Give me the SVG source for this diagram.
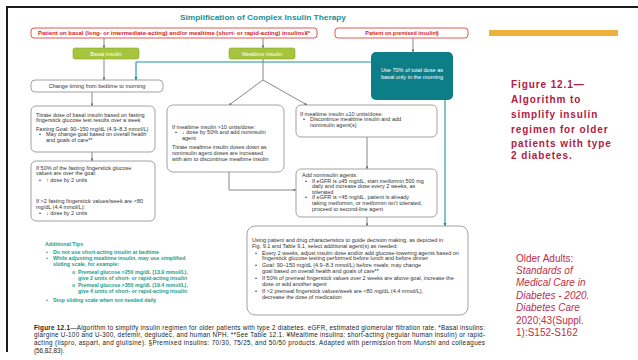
<svg xmlns="http://www.w3.org/2000/svg" width="638" height="360" viewBox="0 0 638 360">
<defs>
<marker id="ag" viewBox="0 0 6 6" refX="5.5" refY="3" markerWidth="3.2" markerHeight="3.2" orient="auto"><path d="M0,0 L6,3 L0,6 Z" fill="#7a7a7a"/></marker>
<marker id="at" viewBox="0 0 6 6" refX="5.5" refY="3" markerWidth="3.2" markerHeight="3.2" orient="auto"><path d="M0,0 L6,3 L0,6 Z" fill="#1a95a0"/></marker>
<style>
text{font-family:"Liberation Sans",Arial,sans-serif}
.box{fill:#fff;stroke:#8a8a8a;stroke-width:0.8}
.red{fill:#fff;stroke:#e0453a;stroke-width:0.9}
.grn{fill:#a6c43c;stroke:#8aa630;stroke-width:0.6}
.rt{font-size:5.4px;font-weight:bold;fill:#d2232a}
.wt{font-size:5.6px;fill:#fff}
.bt{font-size:5.5px;fill:#333}
.tip{font-size:5.3px;font-weight:bold;fill:#17a08c}
.cap{font-size:6.3px;fill:#222}
.side{font-size:10px;font-weight:bold;fill:#b1203f;letter-spacing:0.9px}
.cite{font-size:10px;fill:#c02d48}
.gl{fill:none;stroke:#7a7a7a;stroke-width:0.9}
.tl{fill:none;stroke:#1a95a0;stroke-width:1.1}
</style>
</defs>
<rect width="638" height="360" fill="#fff"/>
<path d="M7,352 V7 H638" fill="none" stroke="#1c1c1c" stroke-width="2"/>
<rect x="489" y="30" width="129" height="6" fill="#eeb13c"/>
<text x="263" y="20" text-anchor="middle" font-size="8px" font-weight="bold" fill="#1a8f98" textLength="166" lengthAdjust="spacingAndGlyphs">Simplification of Complex Insulin Therapy</text>

<g id="connectors">
<path class="gl" d="M104,38 V48" marker-end="url(#ag)"/>
<path class="gl" d="M263,38 V48" marker-end="url(#ag)"/>
<path class="gl" d="M413,38 V52" marker-end="url(#ag)"/>
<path class="gl" d="M104,59 V80" marker-end="url(#ag)"/>
<path class="gl" d="M92,92 V106" marker-end="url(#ag)"/>
<path class="gl" d="M92,152 V161" marker-end="url(#ag)"/>
<path class="gl" d="M263,59 V80 L229,105" marker-end="url(#ag)"/>
<path class="gl" d="M263,80 L307,105" marker-end="url(#ag)"/>
<path class="gl" d="M229,172 V190 H296" marker-end="url(#ag)"/>
<path class="gl" d="M367,137 V169" marker-end="url(#ag)"/>
<path class="gl" d="M367,217 V226" marker-end="url(#ag)"/>
<path class="tl" d="M371,62 H136 V80" marker-end="url(#at)"/>
<path class="tl" d="M445,100 V226" marker-end="url(#at)"/>
</g>

<g id="n-patient-basal">
<rect class="red" x="31" y="28" width="286" height="10" rx="3"/>
<text class="rt" x="174" y="34.8" text-anchor="middle" textLength="272" lengthAdjust="spacingAndGlyphs">Patient on basal (long- or intermediate-acting) and/or mealtime (short- or rapid-acting) insulins¥*</text>
</g>
<g id="n-patient-premixed">
<rect class="red" x="335" y="28" width="133" height="10" rx="3"/>
<text class="rt" x="402" y="34.8" text-anchor="middle">Patient on premixed insulin§</text>
</g>
<g id="n-basal">
<rect class="grn" x="73" y="48" width="66" height="11" rx="2"/>
<text class="wt" x="106" y="55.5" text-anchor="middle">Basal insulin</text>
</g>
<g id="n-mealtime">
<rect class="grn" x="229" y="48" width="66" height="11" rx="2"/>
<text class="wt" x="262" y="55.5" text-anchor="middle">Mealtime insulin</text>
</g>
<g id="n-premixed-dose">
<rect x="371" y="52" width="82" height="48" rx="5" fill="#0b7e87"/>
<text class="wt" x="412" y="72" text-anchor="middle">Use 70% of total dose as</text>
<text class="wt" x="412" y="79" text-anchor="middle">basal only in the morning</text>
</g>
<g id="n-change-timing">
<rect class="box" x="31" y="80" width="132" height="12" rx="4"/>
<text class="bt" x="97" y="88" text-anchor="middle">Change timing from bedtime to morning</text>
</g>
<g id="n-titrate-basal">
<rect class="box" x="31" y="106" width="124" height="46" rx="5"/>
<text class="bt" x="36" y="116.8">Titrate dose of basal insulin based on fasting</text>
<text class="bt" x="36" y="122.4">fingerstick glucose test results over a week</text>
<text class="bt" x="36" y="130.6">Fasting Goal: 90–150 mg/dL (4.9–8.3 mmol/L)</text>
<text class="bt" x="39" y="136.2">•</text>
<text class="bt" x="46" y="136.2">May change goal based on overall health</text>
<text class="bt" x="46" y="141.8">and goals of care**</text>
</g>
<g id="n-if50-fasting">
<rect class="box" x="31" y="161" width="124" height="60" rx="5"/>
<text class="bt" x="36" y="169.8">If 50% of the fasting fingerstick glucose</text>
<text class="bt" x="36" y="175.4">values are over the goal:</text>
<text class="bt" x="39" y="181.8">•</text>
<text class="bt" x="46" y="181.8">↑ dose by 2 units</text>
<text class="bt" x="36" y="203.4">If &gt;2 fasting fingerstick values/week are &lt;80</text>
<text class="bt" x="36" y="209">mg/dL (4.4 mmol/L):</text>
<text class="bt" x="39" y="215">•</text>
<text class="bt" x="46" y="215">↓ dose by 2 units</text>
</g>
<g id="n-mealtime-gt10">
<rect class="box" x="167" y="105" width="117" height="67" rx="6"/>
<text class="bt" x="172" y="128.8">If mealtime insulin &gt;10 units/dose:</text>
<text class="bt" x="175" y="134.4">•</text>
<text class="bt" x="182" y="134.4">↓ dose by 50% and add noninsulin</text>
<text class="bt" x="182" y="140">agent</text>
<text class="bt" x="172" y="149.4">Titrate mealtime insulin doses down as</text>
<text class="bt" x="172" y="155">noninsulin agent doses are increased</text>
<text class="bt" x="172" y="160.6">with aim to discontinue mealtime insulin</text>
</g>
<g id="n-mealtime-le10">
<rect class="box" x="296" y="105" width="141" height="32" rx="5"/>
<text class="bt" x="300" y="115.8">If mealtime insulin ≤10 units/dose:</text>
<text class="bt" x="303" y="121.4">•</text>
<text class="bt" x="310" y="121.4">Discontinue mealtime insulin and add</text>
<text class="bt" x="310" y="127">noninsulin agent(s)</text>
</g>
<g id="n-add-noninsulin">
<rect class="box" x="296" y="169" width="141" height="48" rx="5"/>
<text class="bt" x="302" y="176.8">Add noninsulin agents:</text>
<text class="bt" x="305" y="182.6">•</text>
<text class="bt" x="312" y="182.6">If eGFR is ≥45 mg/dL, start metformin 500 mg</text>
<text class="bt" x="312" y="188.2">daily and increase dose every 2 weeks, as</text>
<text class="bt" x="312" y="193.8">tolerated</text>
<text class="bt" x="305" y="199.4">•</text>
<text class="bt" x="312" y="199.4">If eGFR is &lt;45 mg/dL, patient is already</text>
<text class="bt" x="312" y="205">taking metformin, or metformin isn't tolerated,</text>
<text class="bt" x="312" y="210.6">proceed to second-line agent</text>
</g>
<g id="n-select-agents">
<rect class="box" x="247" y="226" width="221" height="89" rx="8"/>
<text class="bt" x="252" y="241.8">Using patient and drug characteristics to guide decision making, as depicted in</text>
<text class="bt" x="252" y="247.6">Fig. 9.1 and Table 9.1, select additional agent(s) as needed:</text>
<text class="bt" x="255" y="254.6">•</text>
<text class="bt" x="262" y="254.6">Every 2 weeks, adjust insulin dose and/or add glucose-lowering agents based on</text>
<text class="bt" x="262" y="260.4">fingerstick glucose testing performed before lunch and before dinner</text>
<text class="bt" x="255" y="267.4">•</text>
<text class="bt" x="262" y="267.4">Goal: 90–150 mg/dL (4.9–8.3 mmol/L) before meals; may change</text>
<text class="bt" x="262" y="273.2">goal based on overall health and goals of care**</text>
<text class="bt" x="255" y="280.2">•</text>
<text class="bt" x="262" y="280.2">If 50% of premeal fingerstick values over 2 weeks are above goal, increase the</text>
<text class="bt" x="262" y="286">dose or add another agent</text>
<text class="bt" x="255" y="293">•</text>
<text class="bt" x="262" y="293">If &gt;2 premeal fingerstick values/week are &lt;80 mg/dL (4.4 mmol/L),</text>
<text class="bt" x="262" y="298.8">decrease the dose of medication</text>
</g>
<g id="tips">
<text class="tip" x="45" y="246">Additional Tips</text>
<text class="tip" x="46" y="254">•</text>
<text class="tip" x="53" y="254">Do not use short-acting insulin at bedtime</text>
<text class="tip" x="46" y="260">•</text>
<text class="tip" x="53" y="260">While adjusting mealtime insulin, may use simplified</text>
<text class="tip" x="53" y="265.6">sliding scale, for example:</text>
<text class="tip" x="72" y="274">o</text>
<text class="tip" x="78" y="274">Premeal glucose &gt;250 mg/dL (13.9 mmol/L),</text>
<text class="tip" x="78" y="280">give 2 units of short- or rapid-acting insulin</text>
<text class="tip" x="72" y="287.4">o</text>
<text class="tip" x="78" y="287.4">Premeal glucose &gt;350 mg/dL (19.4 mmol/L),</text>
<text class="tip" x="78" y="293.4">give 4 units of short- or rapid-acting insulin</text>
<text class="tip" x="46" y="301.6">•</text>
<text class="tip" x="53" y="301.6">Stop sliding scale when not needed daily</text>
</g>
<g id="caption">
<text class="cap" x="34" y="329.5" textLength="451" lengthAdjust="spacing"><tspan font-weight="bold">Figure 12.1</tspan>—Algorithm to simplify insulin regimen for older patients with type 2 diabetes. eGFR, estimated glomerular filtration rate. *Basal insulins:</text>
<text class="cap" x="34" y="337.3" textLength="451" lengthAdjust="spacing">glargine U-100 and U-300, detemir, degludec, and human NPH. **See Table 12.1. ¥Mealtime insulins: short-acting (regular human insulin) or rapid-</text>
<text class="cap" x="34" y="345.1" textLength="451" lengthAdjust="spacing">acting (lispro, aspart, and glulisine). §Premixed insulins: 70/30, 75/25, and 50/50 products. Adapted with permission from Munshi and colleagues</text>
<text class="cap" x="34" y="352.9">(56,82,83).</text>
</g>
<g id="side-title">
<text class="side" x="511" y="88">Figure 12.1—</text>
<text class="side" x="511" y="103.3">Algorithm to</text>
<text class="side" x="511" y="118.3">simplify insulin</text>
<text class="side" x="511" y="133.3">regimen for older</text>
<text class="side" x="511" y="146.7">patients with type</text>
<text class="side" x="511" y="159.3">2 diabetes.</text>
</g>
<g id="side-citation">
<text class="cite" x="516" y="262">Older Adults:</text>
<text class="cite" x="516" y="274" font-style="italic">Standards of</text>
<text class="cite" x="516" y="286" font-style="italic">Medical Care in</text>
<text class="cite" x="516" y="299" font-style="italic">Diabetes - 2020.</text>
<text class="cite" x="516" y="311" font-style="italic">Diabetes Care</text>
<text class="cite" x="516" y="324">2020;43(Suppl.</text>
<text class="cite" x="516" y="336">1):S152-S162</text>
</g>
</svg>
